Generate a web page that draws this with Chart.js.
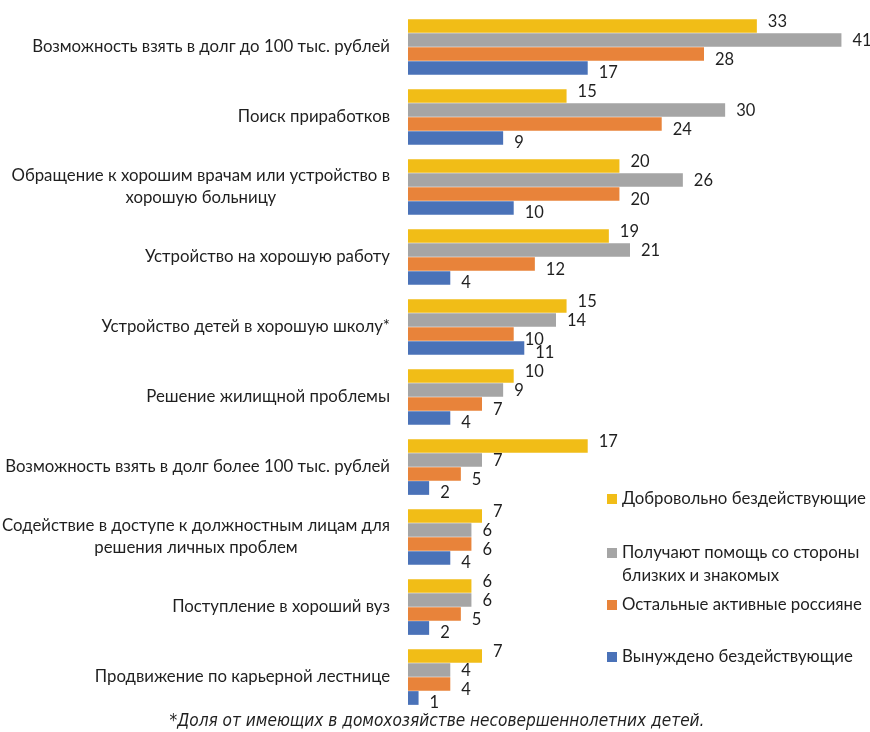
<!DOCTYPE html>
<html>
<head>
<meta charset="utf-8">
<script src="https://cdn.jsdelivr.net/npm/chart.js@4.4.0/dist/chart.umd.min.js"></script>
<style>
  html, body { margin: 0; padding: 0; background: #fff; }
  #wrap { position: relative; width: 870px; height: 732px; }
</style>
</head>
<body>
<div id="wrap"><canvas id="barChart"></canvas></div>
<script>
// Категории (строки могут переноситься)
const categories = [
    ['Возможность взять в долг до 100 тыс. рублей'],
    ['Поиск приработков'],
    ['Обращение к хорошим врачам или устройство в', 'хорошую больницу'],
    ['Устройство на хорошую работу'],
    ['Устройство детей в хорошую школу*'],
    ['Решение жилищной проблемы'],
    ['Возможность взять в долг более 100 тыс. рублей'],
    ['Содействие в доступе к должностным лицам для', 'решения личных проблем'],
    ['Поступление в хороший вуз'],
    ['Продвижение по карьерной лестнице']
];

const seriesNames = [
    ['Добровольно бездействующие'],
    ['Получают помощь со стороны', 'близких и знакомых'],
    ['Остальные активные россияне'],
    ['Вынуждено бездействующие']
];

const voluntaryIdle = [33, 15, 20, 19, 15, 10, 17, 7, 6, 7];
const helpFromClose = [41, 30, 26, 21, 14, 9, 7, 6, 6, 4];
const otherActive = [28, 24, 20, 12, 10, 7, 5, 6, 5, 4];
const forcedIdle = [17, 9, 10, 4, 11, 4, 2, 4, 2, 1];

const footnote = '*Доля от имеющих в домохозяйстве несовершеннолетних детей.';

const colors = ['#F1BD17', '#A5A5A5', '#E8833A', '#4A72B8'];
const labelShift = [-4, 1, 6, 5]; // сдвиг подписей значений по вертикали

const FONT = 'Lato, "Open Sans", sans-serif';
const TEXT = '#1f1f1f';

// Подписи категорий, значения, легенда и сноска
const drawTexts = {
    id: 'drawTexts',
    afterDatasetsDraw(chart) {
        const ctx = chart.ctx;
        const yScale = chart.scales.y;
        ctx.save();
        ctx.fillStyle = TEXT;
        ctx.textBaseline = 'middle';

        // категории: блок выровнен вправо, строки внутри по центру
        ctx.font = '16.8px ' + FONT;
        categories.forEach((lines, i) => {
            const yc = yScale.getPixelForValue(i);
            const widths = lines.map(l => ctx.measureText(l).width);
            const blockW = Math.max(...widths);
            const right = chart.chartArea.left - 18;
            const lh = 22;
            lines.forEach((l, k) => {
                const y = yc + (k - (lines.length - 1) / 2) * lh;
                ctx.textAlign = 'center';
                ctx.fillText(l, right - blockW / 2, y);
            });
        });

        // значения
        ctx.font = '16.5px ' + FONT;
        ctx.textAlign = 'left';
        chart.data.datasets.forEach((ds, di) => {
            const meta = chart.getDatasetMeta(di);
            meta.data.forEach((bar, i) => {
                ctx.fillText(String(ds.data[i]), bar.x + 11, bar.y + labelShift[di]);
            });
        });

        // легенда
        ctx.font = '16.8px ' + FONT;
        const legendY = [499, 553, 605, 657];
        seriesNames.forEach((lines, i) => {
            ctx.fillStyle = colors[i];
            ctx.fillRect(607, legendY[i] - 5, 10, 10);
            ctx.fillStyle = TEXT;
            lines.forEach((l, k) => ctx.fillText(l, 622, legendY[i] + k * 23));
        });

        // сноска
        ctx.font = 'italic 17.1px "Liberation Sans Narrow", "DejaVu Sans Condensed", sans-serif';
        ctx.textAlign = 'center';
        ctx.fillText(footnote, 437, 722);
        ctx.restore();
    }
};

const barData = {
    labels: categories,
    datasets: [voluntaryIdle, helpFromClose, otherActive, forcedIdle].map((d, i) => ({
        label: seriesNames[i].join(' '),
        data: d,
        backgroundColor: colors[i],
        borderWidth: 0,
        categoryPercentage: 0.8,
        barPercentage: 0.98
    }))
};

const barConfig = {
    type: 'bar',
    data: barData,
    options: {
        indexAxis: 'y',
        responsive: true,
        maintainAspectRatio: false,
        animation: false,
        layout: { padding: { top: 12, bottom: 20, right: 18, left: 0 } },
        plugins: {
            legend: { display: false },
            tooltip: { enabled: false }
        },
        scales: {
            x: {
                display: false,
                min: 0,
                max: 42
            },
            y: {
                grid: { display: false, drawTicks: false },
                border: { display: false },
                ticks: { display: false },
                afterFit(scale) { scale.width = 408; }
            }
        }
    },
    plugins: [drawTexts]
};

const barCtx = document.getElementById('barChart').getContext('2d');
new Chart(barCtx, barConfig);
</script>
</body>
</html>
